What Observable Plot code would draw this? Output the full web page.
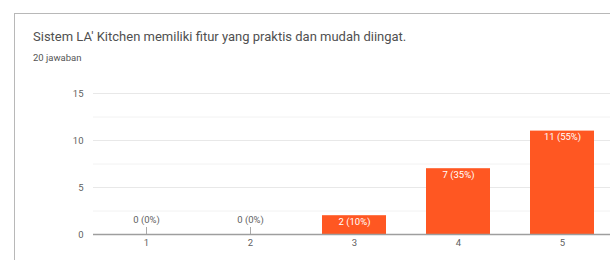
<!DOCTYPE html>
<html>
<head>
<meta charset="utf-8">
<script src="https://cdn.jsdelivr.net/npm/d3@7"></script>
<script src="https://cdn.jsdelivr.net/npm/@observablehq/plot@0.6"></script>
<style>
  html, body { margin: 0; padding: 0; background: #fff; width: 610px; height: 260px; overflow: hidden; font-family: Roboto, "Open Sans", sans-serif; }
  #card { position: absolute; left: 14px; top: 13px; width: 620px; height: 260px; border-top: 1.5px solid #b8b8b8; border-left: 1.5px solid #b8b8b8; box-sizing: border-box; }
  #title { position: absolute; left: 33px; top: 29px; font-size: 13px; line-height: 16px; color: #505050; white-space: nowrap; }
  #subtitle { position: absolute; left: 33px; top: 52px; font-size: 9.5px; line-height: 12px; color: #555; white-space: nowrap; }
  #chart { position: absolute; left: 0; top: 80px; width: 625px; height: 180px; }
  #chart svg { display: block; max-width: none !important; width: 625px; height: 180px; }
</style>
</head>
<body>
<div id="card"></div>
<div id="title">Sistem LA' Kitchen memiliki fitur yang praktis dan mudah diingat.</div>
<div id="subtitle">20 jawaban</div>
<div id="chart"></div>
<script>
const categories = ["1", "2", "3", "4", "5"];
const counts = [0, 0, 2, 7, 11];
const percents = ["0%", "0%", "10%", "35%", "55%"];
const majorTicks = [0, 5, 10, 15];
const minorTicks = [2.5, 7.5, 12.5];

const data = categories.map((c, i) => ({cat: c, n: counts[i], label: `${counts[i]} (${percents[i]})`}));
const zeros = data.filter(d => d.n === 0);
const nonzero = data.filter(d => d.n > 0);

const chart = Plot.plot({
  width: 625,
  height: 180,
  marginLeft: 93,
  marginRight: 10,
  marginTop: 13,
  marginBottom: 26,
  style: {fontFamily: "Roboto, sans-serif", fontSize: "9.5px", color: "#5f5f5f", background: "transparent"},
  x: {domain: categories, paddingInner: 0.38, paddingOuter: 0.19, label: null, tickSize: 0, tickPadding: 5},
  y: {domain: [0, 15], ticks: majorTicks, label: null, tickSize: 0, tickPadding: 10},
  marks: [
    Plot.ruleY(minorTicks, {stroke: "#f2f2f2", strokeWidth: 1}),
    Plot.ruleY(majorTicks.filter(t => t > 0), {stroke: "#e8e8e8", strokeWidth: 1}),
    Plot.barY(nonzero, {x: "cat", y: "n", fill: "#ff5722"}),
    Plot.ruleX(zeros, {x: "cat", y1: 0, y2: "n", stroke: "#aaa", strokeWidth: 1, insetTop: -7}),
    Plot.text(zeros, {x: "cat", y: "n", text: "label", dy: -15, fill: "#5f5f5f", fontSize: 9.5}),
    Plot.text(nonzero, {x: "cat", y: "n", text: "label", dy: 6, fill: "#fff", fontSize: 9.5}),
    Plot.ruleY([0], {stroke: "#9e9e9e", strokeWidth: 1.5})
  ]
});
document.getElementById("chart").appendChild(chart);
</script>
</body>
</html>
